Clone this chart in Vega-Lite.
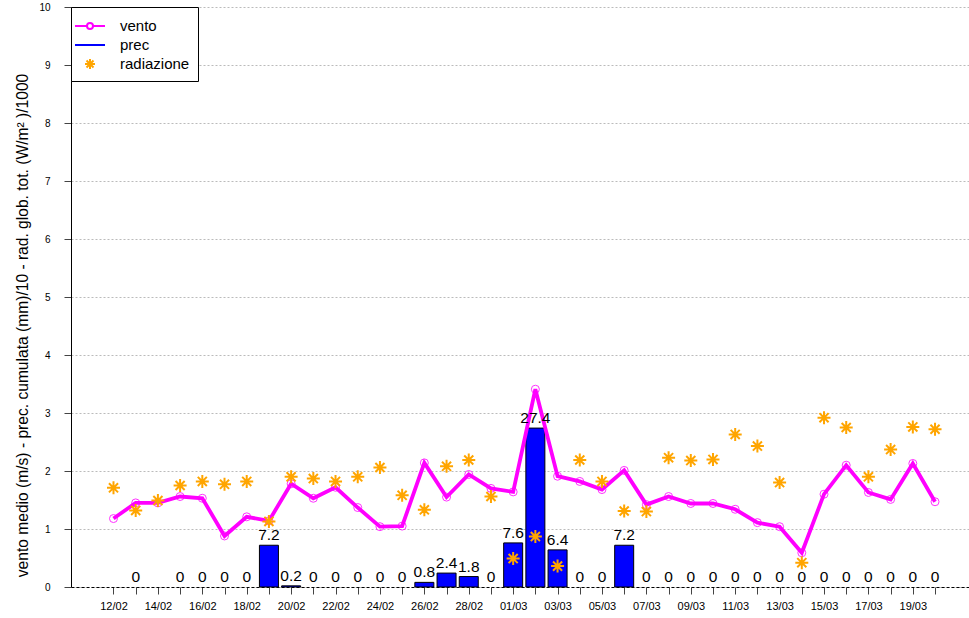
{
  "$schema": "https://vega.github.io/schema/vega-lite/v6.json",
  "width": 898,
  "height": 580,
  "autosize": {"type": "none"},
  "padding": {"left": 71, "top": 7, "right": 0, "bottom": 31},
  "background": "white",
  "config": {
    "view": {"stroke": null},
    "font": "Liberation Sans",
    "axis": {"labelFont": "Liberation Sans", "titleFont": "Liberation Sans"},
    "legend": {"labelFont": "Liberation Sans"}
  },
  "data": {
    "values": [
      {"date": "2024-02-12", "vento": 1.18, "prec": null, "rad": 1.71},
      {"date": "2024-02-13", "vento": 1.45, "prec": 0, "rad": 1.32},
      {"date": "2024-02-14", "vento": 1.45, "prec": null, "rad": 1.49},
      {"date": "2024-02-15", "vento": 1.56, "prec": 0, "rad": 1.75},
      {"date": "2024-02-16", "vento": 1.53, "prec": 0, "rad": 1.82},
      {"date": "2024-02-17", "vento": 0.88, "prec": 0, "rad": 1.77},
      {"date": "2024-02-18", "vento": 1.21, "prec": 0, "rad": 1.82},
      {"date": "2024-02-19", "vento": 1.14, "prec": 7.2, "rad": 1.13},
      {"date": "2024-02-20", "vento": 1.78, "prec": 0.2, "rad": 1.90},
      {"date": "2024-02-21", "vento": 1.53, "prec": 0, "rad": 1.87},
      {"date": "2024-02-22", "vento": 1.72, "prec": 0, "rad": 1.82},
      {"date": "2024-02-23", "vento": 1.37, "prec": 0, "rad": 1.90},
      {"date": "2024-02-24", "vento": 1.04, "prec": 0, "rad": 2.06},
      {"date": "2024-02-25", "vento": 1.05, "prec": 0, "rad": 1.58},
      {"date": "2024-02-26", "vento": 2.14, "prec": 0.8, "rad": 1.33},
      {"date": "2024-02-27", "vento": 1.55, "prec": 2.4, "rad": 2.08},
      {"date": "2024-02-28", "vento": 1.94, "prec": 1.8, "rad": 2.19},
      {"date": "2024-02-29", "vento": 1.70, "prec": 0, "rad": 1.56},
      {"date": "2024-03-01", "vento": 1.64, "prec": 7.6, "rad": 0.49},
      {"date": "2024-03-02", "vento": 3.41, "prec": 27.4, "rad": 0.87},
      {"date": "2024-03-03", "vento": 1.91, "prec": 6.4, "rad": 0.36},
      {"date": "2024-03-04", "vento": 1.82, "prec": 0, "rad": 2.19},
      {"date": "2024-03-05", "vento": 1.68, "prec": 0, "rad": 1.82},
      {"date": "2024-03-06", "vento": 2.01, "prec": 7.2, "rad": 1.31},
      {"date": "2024-03-07", "vento": 1.42, "prec": 0, "rad": 1.30},
      {"date": "2024-03-08", "vento": 1.56, "prec": 0, "rad": 2.23},
      {"date": "2024-03-09", "vento": 1.44, "prec": 0, "rad": 2.18},
      {"date": "2024-03-10", "vento": 1.44, "prec": 0, "rad": 2.20},
      {"date": "2024-03-11", "vento": 1.34, "prec": 0, "rad": 2.63},
      {"date": "2024-03-12", "vento": 1.11, "prec": 0, "rad": 2.43},
      {"date": "2024-03-13", "vento": 1.04, "prec": 0, "rad": 1.80},
      {"date": "2024-03-14", "vento": 0.59, "prec": 0, "rad": 0.42},
      {"date": "2024-03-15", "vento": 1.60, "prec": 0, "rad": 2.92},
      {"date": "2024-03-16", "vento": 2.10, "prec": 0, "rad": 2.75},
      {"date": "2024-03-17", "vento": 1.63, "prec": 0, "rad": 1.90},
      {"date": "2024-03-18", "vento": 1.51, "prec": 0, "rad": 2.37},
      {"date": "2024-03-19", "vento": 2.13, "prec": 0, "rad": 2.76},
      {"date": "2024-03-20", "vento": 1.47, "prec": 0, "rad": 2.72}
    ]
  },
  "encoding": {
    "x": {
      "field": "date",
      "type": "temporal",
      "scale": {
        "type": "utc",
        "nice": false,
        "padding": 0,
        "domain": [1707530630400, 1711024992000]
      },
      "axis": {
        "orient": "bottom",
        "title": null,
        "grid": false,
        "values": [1707696000000, 1707782400000, 1707868800000, 1707955200000, 1708041600000, 1708128000000, 1708214400000, 1708300800000, 1708387200000, 1708473600000, 1708560000000, 1708646400000, 1708732800000, 1708819200000, 1708905600000, 1708992000000, 1709078400000, 1709164800000, 1709251200000, 1709337600000, 1709424000000, 1709510400000, 1709596800000, 1709683200000, 1709769600000, 1709856000000, 1709942400000, 1710028800000, 1710115200000, 1710201600000, 1710288000000, 1710374400000, 1710460800000, 1710547200000, 1710633600000, 1710720000000, 1710806400000, 1710892800000],
        "labelExpr": "round((datum.value - 1707696000000) / 86400000) % 2 == 0 ? utcFormat(datum.value, '%d/%m') : ''",
        "labelOverlap": false,
        "labelFlush": false,
        "labelFontSize": 11,
        "labelColor": "#000000",
        "labelPadding": 6,
        "tickSize": 7,
        "tickColor": "#444444",
        "domainColor": "#000000",
        "domainDash": [3, 2],
        "domainWidth": 1
      }
    }
  },
  "layer": [
    {
      "transform": [{"filter": "isValid(datum.prec) && datum.prec > 0"}],
      "mark": {"type": "bar", "width": 19, "fill": "#0000ff", "stroke": "#000000", "strokeWidth": 1},
      "encoding": {
        "y": {"field": "prec", "type": "quantitative", "scale": {"domain": [0, 100], "nice": false, "zero": true}, "axis": null}
      }
    },
    {
      "mark": {"type": "line", "color": "#ff00ff", "strokeWidth": 3.8},
      "encoding": {
        "y": {
          "field": "vento",
          "type": "quantitative",
          "scale": {"domain": [0, 10], "nice": false},
          "axis": {
            "orient": "left",
            "values": [0, 1, 2, 3, 4, 5, 6, 7, 8, 9, 10],
            "grid": true,
            "gridDash": [2, 2],
            "gridColor": "#bbbbbb",
            "gridWidth": 1,
            "tickSize": 7,
            "tickColor": "#444444",
            "domainColor": "#000000",
            "labelFontSize": 10,
            "labelColor": "#000000",
            "labelPadding": 14,
            "title": "vento medio (m/s) - prec. cumulata (mm)/10 - rad. glob. tot. (W/m² )/1000",
            "titleFontSize": 15.6,
            "titleFontWeight": "normal",
            "titleColor": "#000000",
            "titleAngle": 270,
            "titleX": -49,
            "titleY": 318,
            "titleBaseline": "middle",
            "titleAlign": "center"
          }
        }
      }
    },
    {
      "mark": {"type": "point", "shape": "circle", "size": 64, "filled": false, "stroke": "#ff00ff", "strokeWidth": 1, "opacity": 0.8},
      "encoding": {
        "y": {"field": "vento", "type": "quantitative", "scale": {"domain": [0, 10], "nice": false}, "axis": null}
      }
    },
    {
      "mark": {"type": "point", "filled": false, "size": 676, "strokeWidth": 2, "opacity": 1},
      "encoding": {
        "y": {"field": "rad", "type": "quantitative", "scale": {"domain": [0, 10], "nice": false}, "axis": null},
        "color": {
          "datum": "radiazione",
          "type": "nominal",
          "scale": {"domain": ["vento", "prec", "radiazione"], "range": ["#ff00ff", "#0000ff", "#ffa500"]},
          "legend": {
            "orient": "top-left",
            "offset": 0,
            "title": null,
            "strokeColor": "#000000",
            "fillColor": "#ffffff",
            "padding": 8,
            "symbolSize": 400,
            "symbolStrokeWidth": 2,
            "labelFontSize": 15,
            "labelColor": "#000000",
            "labelOffset": 19,
            "rowPadding": 0
          }
        },
        "shape": {
          "datum": "radiazione",
          "type": "nominal",
          "scale": {
            "domain": ["vento", "prec", "radiazione"],
            "range": [
              "M-1.5,0L-0.3,0M0.3,0L1.5,0M0.3,0A0.3,0.3 0 1,1 -0.3,0A0.3,0.3 0 1,1 0.3,0",
              "M-1.5,0L1.5,0",
              "M-0.5,0L0.5,0M0,-0.5L0,0.5M-0.35,-0.35L0.35,0.35M-0.35,0.35L0.35,-0.35"
            ]
          },
          "legend": {
            "orient": "top-left",
            "offset": 0,
            "title": null,
            "strokeColor": "#000000",
            "fillColor": "#ffffff",
            "padding": 8,
            "symbolSize": 400,
            "symbolStrokeWidth": 2,
            "labelFontSize": 15,
            "labelColor": "#000000",
            "labelOffset": 19,
            "rowPadding": 0
          }
        }
      }
    },
    {
      "transform": [{"filter": "isValid(datum.prec)"}],
      "mark": {"type": "text", "baseline": "alphabetic", "align": "center", "dy": -5, "fontSize": 15.5, "color": "#000000"},
      "encoding": {
        "y": {"field": "prec", "type": "quantitative", "scale": {"domain": [0, 100], "nice": false, "zero": true}, "axis": null},
        "text": {"field": "prec", "type": "quantitative", "format": ".1~f"}
      }
    }
  ],
  "resolve": {"scale": {"y": "independent"}}
}
